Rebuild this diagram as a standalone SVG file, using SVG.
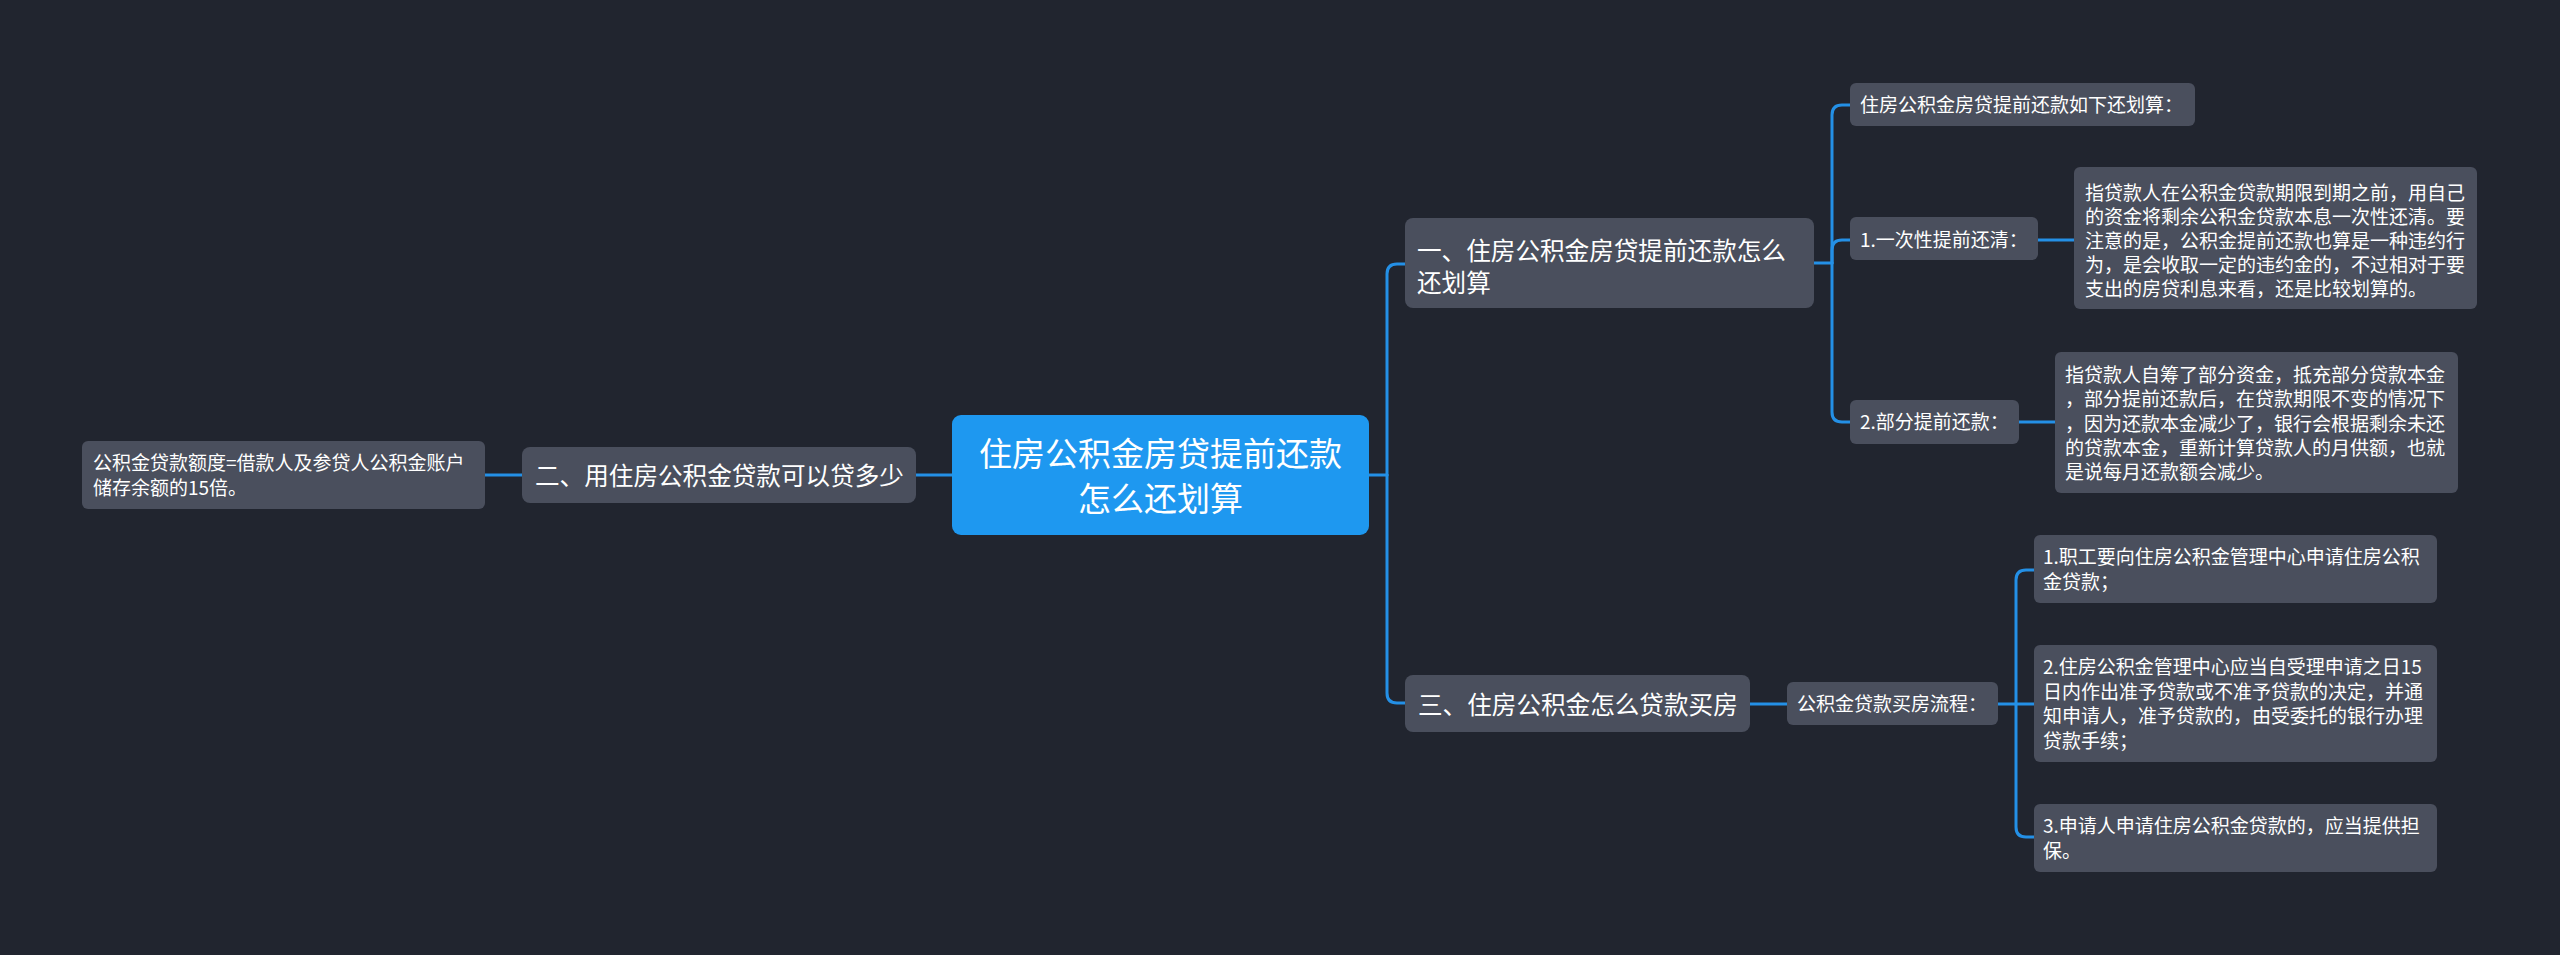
<svg xmlns="http://www.w3.org/2000/svg" width="2560" height="955" viewBox="0 0 2560 955">
<style>
.bg{fill:#21252F}
.node{fill:#4A4F5D}
.root{fill:#1E98F0}
.t{font-family:"Noto Sans CJK SC","Noto Sans",sans-serif;fill:#FFFFFF}
.t33{font-size:33px}
.t25{font-size:24.6px}
.t19{font-size:19px}
.conn path{fill:none;stroke:#2490E6;stroke-width:3;stroke-linecap:round;stroke-linejoin:round}
</style>
<rect class="bg" x="0" y="0" width="2560" height="955"/>
<g id="connectors" class="conn">
<path d="M952,475 H916"/>
<path d="M522,475 H485"/>
<path d="M1369,475 H1387"/>
<path d="M1387,475 V274 Q1387,264 1397,264 H1405"/>
<path d="M1387,475 V693 Q1387,703 1397,703 H1405"/>
<path d="M1814,263 H1832"/>
<path d="M1832,263 V115 Q1832,105 1842,105 H1850"/>
<path d="M1832,263 V250 Q1832,240 1842,240 H1850"/>
<path d="M1832,263 V412 Q1832,422 1842,422 H1850"/>
<path d="M2038,240 H2074"/>
<path d="M2019,422 H2055"/>
<path d="M1750,704 H1787"/>
<path d="M1998,704 H2016"/>
<path d="M2016,704 V580 Q2016,570 2026,570 H2034"/>
<path d="M2016,704 H2034"/>
<path d="M2016,704 V827 Q2016,837 2026,837 H2034"/>
</g>
<g id="root">
<rect class="root" x="952" y="415" width="417" height="120" rx="9"/>
<text class="t t33" x="1160.5" y="465.5" text-anchor="middle">住房公积金房贷提前还款</text>
<text class="t t33" x="1160.5" y="510.5" text-anchor="middle">怎么还划算</text>
</g>
<g id="branch2">
<rect class="node" x="522" y="447" width="394" height="56" rx="8"/>
<text class="t t25" x="535" y="485">二、用住房公积金贷款可以贷多少</text>
</g>
<g id="leaf2">
<rect class="node" x="82" y="441" width="403" height="68" rx="6"/>
<text class="t t19" x="93" y="470">公积金贷款额度=借款人及参贷人公积金账户</text>
<text class="t t19" x="93" y="495">储存余额的15倍。</text>
</g>
<g id="branch1">
<rect class="node" x="1405" y="218" width="409" height="90" rx="8"/>
<text class="t t25" x="1417" y="259.5">一、住房公积金房贷提前还款怎么</text>
<text class="t t25" x="1417" y="291.5">还划算</text>
</g>
<g id="b1c0">
<rect class="node" x="1850" y="83" width="345" height="43" rx="6"/>
<text class="t t19" x="1860" y="112">住房公积金房贷提前还款如下还划算：</text>
</g>
<g id="b1c1">
<rect class="node" x="1850" y="217" width="188" height="43" rx="6"/>
<text class="t t19" x="1860" y="247">1.一次性提前还清：</text>
</g>
<g id="b1c1d">
<rect class="node" x="2074" y="167" width="403" height="142" rx="6"/>
<text class="t t19" x="2085" y="200">指贷款人在公积金贷款期限到期之前，用自己</text>
<text class="t t19" x="2085" y="224">的资金将剩余公积金贷款本息一次性还清。要</text>
<text class="t t19" x="2085" y="248">注意的是，公积金提前还款也算是一种违约行</text>
<text class="t t19" x="2085" y="272">为，是会收取一定的违约金的，不过相对于要</text>
<text class="t t19" x="2085" y="296">支出的房贷利息来看，还是比较划算的。</text>
</g>
<g id="b1c2">
<rect class="node" x="1850" y="400" width="169" height="44" rx="6"/>
<text class="t t19" x="1860" y="429">2.部分提前还款：</text>
</g>
<g id="b1c2d">
<rect class="node" x="2055" y="352" width="403" height="141" rx="6"/>
<text class="t t19" x="2065" y="382">指贷款人自筹了部分资金，抵充部分贷款本金</text>
<text class="t t19" x="2065" y="406">，部分提前还款后，在贷款期限不变的情况下</text>
<text class="t t19" x="2065" y="431">，因为还款本金减少了，银行会根据剩余未还</text>
<text class="t t19" x="2065" y="455">的贷款本金，重新计算贷款人的月供额，也就</text>
<text class="t t19" x="2065" y="479">是说每月还款额会减少。</text>
</g>
<g id="branch3">
<rect class="node" x="1405" y="675" width="345" height="57" rx="8"/>
<text class="t t25" x="1418" y="714">三、住房公积金怎么贷款买房</text>
</g>
<g id="b3c0">
<rect class="node" x="1787" y="682" width="211" height="43" rx="6"/>
<text class="t t19" x="1797" y="711">公积金贷款买房流程：</text>
</g>
<g id="b3s1">
<rect class="node" x="2034" y="535" width="403" height="68" rx="6"/>
<text class="t t19" x="2043" y="564">1.职工要向住房公积金管理中心申请住房公积</text>
<text class="t t19" x="2043" y="589">金贷款；</text>
</g>
<g id="b3s2">
<rect class="node" x="2034" y="645" width="403" height="117" rx="6"/>
<text class="t t19" x="2043" y="674">2.住房公积金管理中心应当自受理申请之日15</text>
<text class="t t19" x="2043" y="698.5">日内作出准予贷款或不准予贷款的决定，并通</text>
<text class="t t19" x="2043" y="723">知申请人，准予贷款的，由受委托的银行办理</text>
<text class="t t19" x="2043" y="747.5">贷款手续；</text>
</g>
<g id="b3s3">
<rect class="node" x="2034" y="804" width="403" height="68" rx="6"/>
<text class="t t19" x="2043" y="833">3.申请人申请住房公积金贷款的，应当提供担</text>
<text class="t t19" x="2043" y="858">保。</text>
</g>
</svg>
